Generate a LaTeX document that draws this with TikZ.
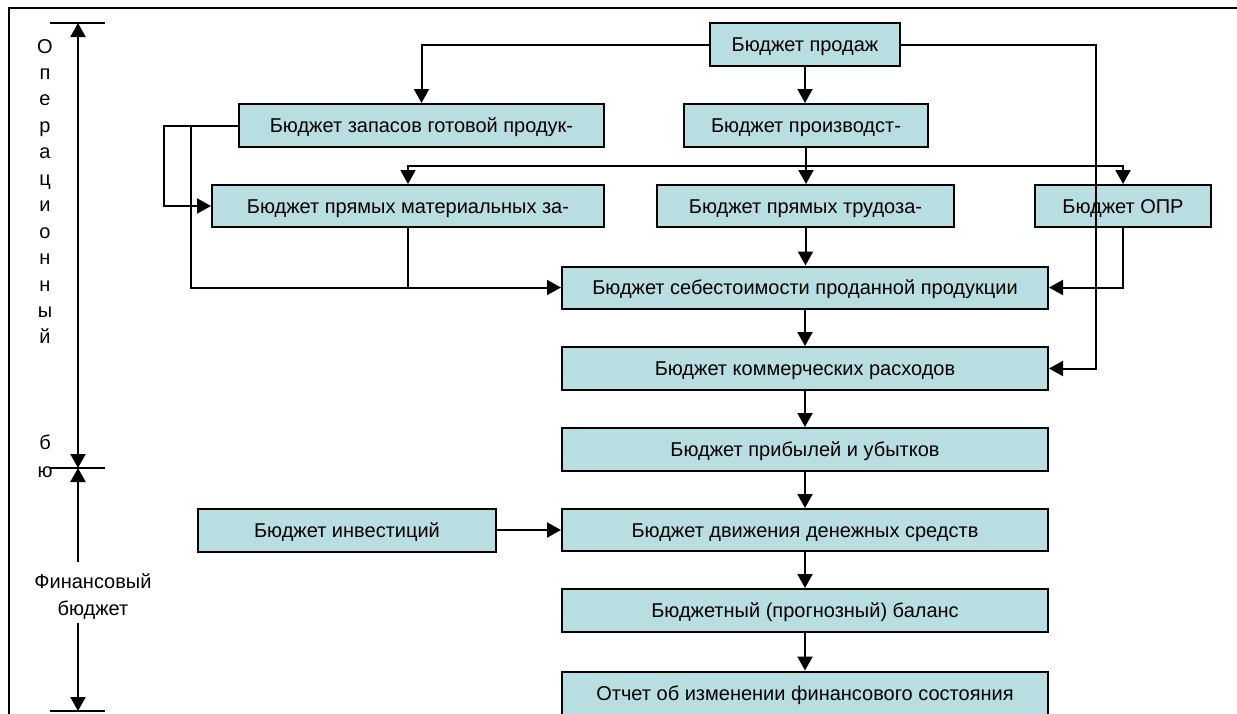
\documentclass[tikz,border=0pt]{standalone}
\usepackage{fontspec}
\setmainfont{Liberation Sans}
\usetikzlibrary{arrows.meta}
\definecolor{boxfill}{RGB}{184,222,225}
\tikzset{
  box/.style={draw=black, line width=2pt, fill=boxfill, minimum height=43pt, inner sep=0pt, text height=14.5pt, text depth=0pt, font=\fontsize{20}{24}\selectfont},
  conn/.style={line width=2pt, line join=miter},
  arr/.style={conn, -{Triangle[length=14pt,width=15pt]}},
  ax/.style={line width=2pt},
  axarr/.style={ax, {Triangle[length=14pt,width=15pt]}-{Triangle[length=14pt,width=15pt]}},
  axarrend/.style={ax, -{Triangle[length=14pt,width=15pt]}},
  lbl/.style={font=\fontsize{20}{27}\selectfont, inner sep=0pt, align=center},
  vt/.style={font=\fontsize{20}{24}\selectfont, inner sep=0pt, anchor=base}
}
\begin{document}
\begin{tikzpicture}[x=1pt, y=-1pt]
\useasboundingbox (0,0) rectangle (1237,713);
% frame
\draw[line width=2.5pt] (9,714) -- (9,8) -- (1240,8);

% boxes
\node[box, minimum width=190pt] (sales) at (805,44.5) {Бюджет продаж};
\node[box, minimum width=365pt] (stock) at (421.5,125.5) {Бюджет запасов готовой продук-};
\node[box, minimum width=244pt] (prod) at (806,125.5) {Бюджет производст-};
\node[box, minimum width=392pt, minimum height=42pt] (mat) at (408,206) {Бюджет прямых материальных за-};
\node[box, minimum width=297pt, minimum height=42pt] (lab) at (805.5,206) {Бюджет прямых трудоза-};
\node[box, minimum width=176pt, minimum height=42pt] (opr) at (1123,206) {Бюджет ОПР};
\node[box, minimum width=486pt, minimum height=42pt] (cogs) at (805,287.5) {Бюджет себестоимости проданной продукции};
\node[box, minimum width=486pt] (comm) at (805,368.5) {Бюджет коммерческих расходов};
\node[box, minimum width=486pt] (pl) at (805,449.5) {Бюджет прибылей и убытков};
\node[box, minimum width=486pt, minimum height=42pt] (cash) at (805,530) {Бюджет движения денежных средств};
\node[box, minimum width=486pt] (bal) at (805,610.5) {Бюджетный (прогнозный) баланс};
\node[box, minimum width=486pt] (rep) at (805,693) {Отчет об изменении финансового состояния};
\node[box, minimum width=298pt] (inv) at (347,530) {Бюджет инвестиций};

% helper coordinates
\coordinate (rs) at (1096,0);
\coordinate (bus) at (0,166);
\coordinate (L1) at (164,0);
\coordinate (L2) at (191,0);

% connectors
\draw[arr] (sales.west) -| (stock.north);
\draw[arr] (sales.south) -- (sales.south |- prod.north);
\draw[arr] (sales.east) -| (rs |- comm.east) -- (comm.east);
\draw[arr] (prod.south) -- (prod.south |- lab.north);
\draw[arr] (prod.south |- bus) -| (mat.north);
\draw[arr] (prod.south |- bus) -| (opr.north);
\draw[arr] (stock.west) -| (L1 |- mat.west) -- (mat.west);
\draw[arr] (L2 |- stock.west) |- (cogs.west);
\draw[conn] (mat.south) -- (mat.south |- cogs.west);
\draw[arr] (lab.south) -- (lab.south |- cogs.north);
\draw[arr] (opr.south) |- (cogs.east);
\draw[arr] (cogs.south) -- (cogs.south |- comm.north);
\draw[arr] (comm.south) -- (comm.south |- pl.north);
\draw[arr] (pl.south) -- (pl.south |- cash.north);
\draw[arr] (cash.south) -- (cash.south |- bal.north);
\draw[arr] (bal.south) -- (bal.south |- rep.north);
\draw[arr] (inv.east) -- (inv.east -| cash.west);

% left axis
\coordinate (axtop) at (78,23);
\coordinate (axmid) at (78,468);
\coordinate (axbot) at (78,711);
\draw[ax] (50,23) -- (105,23);
\draw[ax] (50,468) -- (105,468);
\draw[ax] (50,711) -- (105,711);
\draw[axarr] (axtop) -- (axmid);
\node[lbl] (fin) at (93,597) {Финансовый\\бюджет};
\draw[axarrend] (axmid |- 0,562) -- (axmid);
\draw[axarrend] (axmid |- 0,623) -- (axbot);

% vertical letters
\foreach \ch [count=\i] in {О,п,е,р,а,ц,и,о,н,н,ы,й}
  \node[vt] (v\i) at (45, 53+26.45*\i-26.45) {\ch};
\node[vt] (v13) at (45,449) {б};
\node[vt] (v14) at (45,477) {ю};
\end{tikzpicture}
\end{document}
